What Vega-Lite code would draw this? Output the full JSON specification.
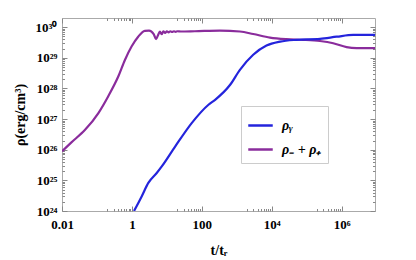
{
  "$schema": "https://vega.github.io/schema/vega-lite/v6.json",
  "width": 313,
  "height": 193,
  "autosize": {"type": "none"},
  "padding": {"left": 62, "top": 18, "right": 41, "bottom": 49},
  "background": "white",
  "config": {
    "view": {"stroke": "#aaaaaa", "strokeWidth": 1},
    "axis": {
      "domain": false,
      "grid": false,
      "labelFlush": false,
      "labelOverlap": false,
      "tickColor": "#888888",
      "labelFont": "Liberation Serif",
      "labelFontWeight": "bold",
      "labelFontSize": 13,
      "labelColor": "black",
      "titleFont": "Liberation Serif",
      "titleFontWeight": "bold",
      "titleFontSize": 14,
      "titleColor": "black"
    },
    "legend": {
      "orient": "none",
      "legendX": 179,
      "legendY": 88,
      "padding": 6,
      "strokeColor": "#cccccc",
      "fillColor": "white",
      "symbolType": "stroke",
      "symbolSize": 600,
      "symbolStrokeWidth": 2.5,
      "rowPadding": 3,
      "labelOffset": 8,
      "labelFont": "Liberation Serif",
      "labelFontWeight": "bold",
      "labelFontStyle": "italic",
      "labelFontSize": 14,
      "labelColor": "black",
      "title": null
    }
  },
  "data": {
    "values": [
      {"t": 0.01, "rho": 8.9e25, "s": "ρ₋ + ρ₊"},
      {"t": 0.0186, "rho": 1.74e26, "s": "ρ₋ + ρ₊"},
      {"t": 0.0457, "rho": 4.47e26, "s": "ρ₋ + ρ₊"},
      {"t": 0.11, "rho": 1.58e27, "s": "ρ₋ + ρ₊"},
      {"t": 0.209, "rho": 5.5e27, "s": "ρ₋ + ρ₊"},
      {"t": 0.407, "rho": 2.45e28, "s": "ρ₋ + ρ₊"},
      {"t": 0.631, "rho": 8.5e28, "s": "ρ₋ + ρ₊"},
      {"t": 0.977, "rho": 2.34e29, "s": "ρ₋ + ρ₊"},
      {"t": 1.51, "rho": 4.9e29, "s": "ρ₋ + ρ₊"},
      {"t": 2.34, "rho": 7.6e29, "s": "ρ₋ + ρ₊"},
      {"t": 3.09, "rho": 7.76e29, "s": "ρ₋ + ρ₊"},
      {"t": 4.2, "rho": 6.0e29, "s": "ρ₋ + ρ₊"},
      {"t": 4.9, "rho": 4.07e29, "s": "ρ₋ + ρ₊"},
      {"t": 5.62, "rho": 5.6e29, "s": "ρ₋ + ρ₊"},
      {"t": 6.31, "rho": 7.24e29, "s": "ρ₋ + ρ₊"},
      {"t": 7.08, "rho": 5.9e29, "s": "ρ₋ + ρ₊"},
      {"t": 7.94, "rho": 7.4e29, "s": "ρ₋ + ρ₊"},
      {"t": 8.91, "rho": 6.5e29, "s": "ρ₋ + ρ₊"},
      {"t": 10, "rho": 7.4e29, "s": "ρ₋ + ρ₊"},
      {"t": 11.2, "rho": 6.8e29, "s": "ρ₋ + ρ₊"},
      {"t": 12.6, "rho": 7.4e29, "s": "ρ₋ + ρ₊"},
      {"t": 14.1, "rho": 7.0e29, "s": "ρ₋ + ρ₊"},
      {"t": 15.8, "rho": 7.4e29, "s": "ρ₋ + ρ₊"},
      {"t": 17.8, "rho": 7.1e29, "s": "ρ₋ + ρ₊"},
      {"t": 20, "rho": 7.4e29, "s": "ρ₋ + ρ₊"},
      {"t": 25.1, "rho": 7.25e29, "s": "ρ₋ + ρ₊"},
      {"t": 63, "rho": 7.4e29, "s": "ρ₋ + ρ₊"},
      {"t": 331, "rho": 7.76e29, "s": "ρ₋ + ρ₊"},
      {"t": 1230, "rho": 7.24e29, "s": "ρ₋ + ρ₊"},
      {"t": 2950, "rho": 6.0e29, "s": "ρ₋ + ρ₊"},
      {"t": 8900, "rho": 4.57e29, "s": "ρ₋ + ρ₊"},
      {"t": 26300, "rho": 4.07e29, "s": "ρ₋ + ρ₊"},
      {"t": 79400, "rho": 3.89e29, "s": "ρ₋ + ρ₊"},
      {"t": 240000, "rho": 3.55e29, "s": "ρ₋ + ρ₊"},
      {"t": 575000, "rho": 3.0e29, "s": "ρ₋ + ρ₊"},
      {"t": 1380000, "rho": 2.24e29, "s": "ρ₋ + ρ₊"},
      {"t": 2690000, "rho": 2.09e29, "s": "ρ₋ + ρ₊"},
      {"t": 9000000, "rho": 2.09e29, "s": "ρ₋ + ρ₊"},
      {"t": 1.15, "rho": 1.0e24, "s": "ρᵧ"},
      {"t": 1.9, "rho": 3.0e24, "s": "ρᵧ"},
      {"t": 2.95, "rho": 8.3e24, "s": "ρᵧ"},
      {"t": 5.13, "rho": 1.74e25, "s": "ρᵧ"},
      {"t": 7.24, "rho": 2.9e25, "s": "ρᵧ"},
      {"t": 17.4, "rho": 1.29e26, "s": "ρᵧ"},
      {"t": 51.3, "rho": 7.4e26, "s": "ρᵧ"},
      {"t": 155, "rho": 2.95e27, "s": "ρᵧ"},
      {"t": 240, "rho": 4.27e27, "s": "ρᵧ"},
      {"t": 646, "rho": 1.32e28, "s": "ρᵧ"},
      {"t": 1230, "rho": 4.07e28, "s": "ρᵧ"},
      {"t": 2950, "rho": 1.26e29, "s": "ρᵧ"},
      {"t": 7080, "rho": 2.51e29, "s": "ρᵧ"},
      {"t": 17400, "rho": 3.39e29, "s": "ρᵧ"},
      {"t": 51300, "rho": 3.89e29, "s": "ρᵧ"},
      {"t": 240000, "rho": 4.17e29, "s": "ρᵧ"},
      {"t": 724000, "rho": 4.9e29, "s": "ρᵧ"},
      {"t": 2140000, "rho": 5.6e29, "s": "ρᵧ"},
      {"t": 9000000, "rho": 5.6e29, "s": "ρᵧ"}
    ]
  },
  "resolve": {"axis": {"x": "independent", "y": "independent"}},
  "layer": [
    {
      "mark": {"type": "line", "strokeWidth": 2.2, "clip": true, "interpolate": "monotone"},
      "encoding": {
        "x": {
          "field": "t", "type": "quantitative",
          "scale": {"type": "log", "domain": [0.01, 9000000], "nice": false},
          "axis": {
            "orient": "bottom",
            "title": "t/tᵣ",
            "titlePadding": 10,
            "values": [0.01, 0.2, 0.3, 0.4, 0.5, 0.6, 0.7, 0.8, 0.9, 1, 20, 30, 40, 50, 60, 70, 80, 90, 100, 2000, 3000, 4000, 5000, 6000, 7000, 8000, 9000, 10000, 200000, 300000, 400000, 500000, 600000, 700000, 800000, 900000, 1000000],
            "labelExpr": "datum.value==0.01?'0.01':datum.value==1?'1':datum.value==100?'100':datum.value==10000?'10⁴':datum.value==1000000?'10⁶':''",
            "tickSize": {"condition": {"test": "indexof([0.01,1,100,10000,1000000], datum.value) >= 0", "value": -5}, "value": -2.5},
            "labelPadding": 12
          }
        },
        "y": {
          "field": "rho", "type": "quantitative",
          "scale": {"type": "log", "domain": [1e24, 2e30], "nice": false},
          "axis": {
            "orient": "left",
            "title": "ρ(erg/cm³)",
            "titlePadding": 8,
            "values": [1e24, 2e24, 3e24, 4e24, 5e24, 6e24, 7e24, 8e24, 9e24, 1e25, 2e25, 3e25, 4e25, 5e25, 6e25, 7e25, 8e25, 9e25, 1e26, 2e26, 3e26, 4e26, 5e26, 6e26, 7e26, 8e26, 9e26, 1e27, 2e27, 3e27, 4e27, 5e27, 6e27, 7e27, 8e27, 9e27, 1e28, 2e28, 3e28, 4e28, 5e28, 6e28, 7e28, 8e28, 9e28, 1e29, 2e29, 3e29, 4e29, 5e29, 6e29, 7e29, 8e29, 9e29, 1e30],
            "labelExpr": "abs(log(datum.value)/LN10 - round(log(datum.value)/LN10)) < 0.001 ? ['10²⁴','10²⁵','10²⁶','10²⁷','10²⁸','10²⁹','10³⁰'][round(log(datum.value)/LN10)-24] : ''",
            "tickSize": {"condition": {"test": "abs(log(datum.value)/LN10 - round(log(datum.value)/LN10)) < 0.001", "value": -5}, "value": -2.5},
            "labelPadding": 10
          }
        },
        "color": {
          "field": "s", "type": "nominal",
          "scale": {"domain": ["ρᵧ", "ρ₋ + ρ₊"], "range": ["#2424dc", "#8a2c9c"]},
          "legend": {}
        }
      }
    },
    {
      "mark": {"type": "line", "strokeOpacity": 0, "clip": true},
      "encoding": {
        "x": {
          "field": "t", "type": "quantitative",
          "axis": {
            "orient": "top",
            "title": null,
            "labels": false,
            "values": [0.01, 0.2, 0.3, 0.4, 0.5, 0.6, 0.7, 0.8, 0.9, 1, 20, 30, 40, 50, 60, 70, 80, 90, 100, 2000, 3000, 4000, 5000, 6000, 7000, 8000, 9000, 10000, 200000, 300000, 400000, 500000, 600000, 700000, 800000, 900000, 1000000],
            "tickSize": {"condition": {"test": "indexof([0.01,1,100,10000,1000000], datum.value) >= 0", "value": -5}, "value": -2.5}
          }
        },
        "y": {
          "field": "rho", "type": "quantitative",
          "axis": {
            "orient": "right",
            "title": null,
            "labels": false,
            "values": [1e24, 2e24, 3e24, 4e24, 5e24, 6e24, 7e24, 8e24, 9e24, 1e25, 2e25, 3e25, 4e25, 5e25, 6e25, 7e25, 8e25, 9e25, 1e26, 2e26, 3e26, 4e26, 5e26, 6e26, 7e26, 8e26, 9e26, 1e27, 2e27, 3e27, 4e27, 5e27, 6e27, 7e27, 8e27, 9e27, 1e28, 2e28, 3e28, 4e28, 5e28, 6e28, 7e28, 8e28, 9e28, 1e29, 2e29, 3e29, 4e29, 5e29, 6e29, 7e29, 8e29, 9e29, 1e30],
            "tickSize": {"condition": {"test": "abs(log(datum.value)/LN10 - round(log(datum.value)/LN10)) < 0.001", "value": -5}, "value": -2.5}
          }
        },
        "detail": {"field": "s"}
      }
    }
  ]
}
